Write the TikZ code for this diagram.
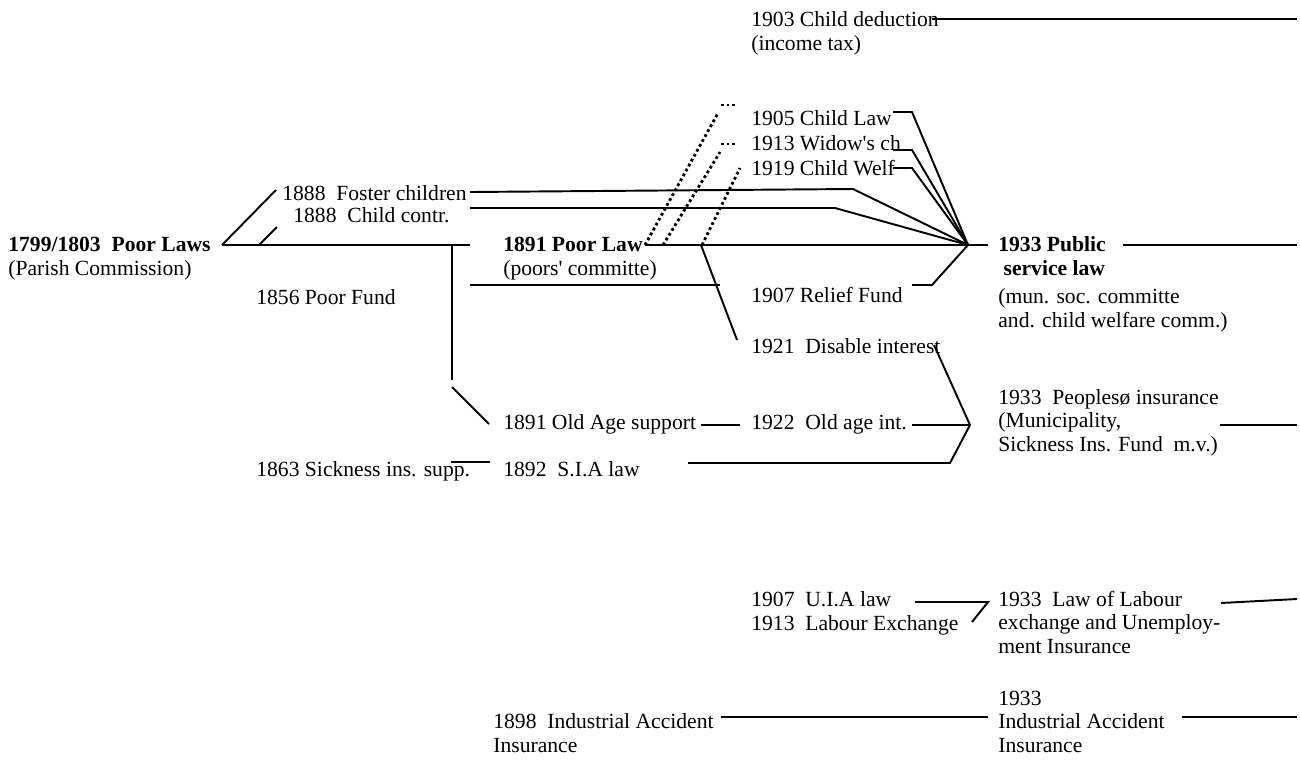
\documentclass[tikz,border=0pt]{standalone}
\usepackage{fontspec}
\setmainfont{Liberation Serif}
\usepackage{tikz}
\usetikzlibrary{calc}
\tikzstyle{lawtext}=[anchor=base west,inner sep=0pt,align=left,font=\fontsize{12.3}{13.1}\selectfont]
\tikzstyle{link}=[line width=1.1pt,color=black]
\tikzstyle{dotlink}=[line width=1.6pt,color=black,dash pattern=on 1.6pt off 1.6pt]

\begin{document}
\begin{tikzpicture}[x={(0.02cm,0)},y={(0,-0.02cm)}]
	\useasboundingbox (0,0) rectangle (1300,761);
	
	% Poor laws 1799/1803 (multi-line nodes sit on their last line)
	\node[lawtext] (poorlaws) at (8,275) {\textbf{1799/1803\ \ Poor Laws}\\(Parish Commission)};
	\node[lawtext] (foster) at (282,200) {1888\ \ Foster children};
	\node[lawtext] (contr) at (293,222) {1888\ \ Child contr.};
	\node[lawtext] (poorfund) at (256,304) {1856 Poor Fund};
	\coordinate (plroot) at (222,245);
	\coordinate (plend) at (470,245);
	\coordinate (fosterin) at (276,190);
	\coordinate (contrfork) at (259,245);
	\coordinate (contrin) at (277,227);
	\coordinate (fundfork) at (452,245);
	\coordinate (fundbot) at (452,380);
	\coordinate (oldtop) at (452,387);
	\coordinate (oldin) at (489,424);
	\draw[link] (plroot) -- (plend);
	\draw[link] (plroot) -- (fosterin);
	\draw[link] (contrfork) -- (contrin);
	\draw[link] (fundfork) -- (fundbot);
	\draw[link] (oldtop) -- (oldin);
	
	% Poor law 1891
	\node[lawtext] (poorlaw) at (503,275) {\textbf{1891 Poor Law}\\(poors\textquotesingle\ committe)};
	\node[lawtext] (deduction) at (751,50) {1903 Child deduction\\(income tax)};
	\node[lawtext] (childlaw) at (751,125) {1905 Child Law};
	\node[lawtext] (widow) at (751,150) {1913 Widow\textquotesingle s ch};
	\node[lawtext] (welfare) at (751,175) {1919 Child Welf};
	\node[lawtext] (relief) at (751,302) {1907 Relief Fund};
	\node[lawtext] (disable) at (751,353) {1921\ \ Disable interest};
	\coordinate (hub) at (968,245);
	\coordinate (fosterout) at (470,192);
	\coordinate (fosterbend) at (853,189);
	\coordinate (controut) at (470,208);
	\coordinate (contrbend) at (835,208);
	\coordinate (fundout) at (470,285);
	\coordinate (fundend) at (720,285);
	\coordinate (plstart) at (645,245);
	\coordinate (plhub) at (988,245);
	\coordinate (dotA) at (663,245);
	\coordinate (dotB) at (702,245);
	\coordinate (dotAtop) at (718,113);
	\coordinate (dotAl) at (721,105);
	\coordinate (dotAr) at (737,105);
	\coordinate (dotBtop) at (720,152);
	\coordinate (dotBl) at (721,144);
	\coordinate (dotBr) at (737,144);
	\coordinate (dotCtop) at (740,168);
	\coordinate (disfork) at (701,245);
	\coordinate (disin) at (737,340);
	\draw[link] (fosterout) -- (fosterbend) -- (hub);
	\draw[link] (controut) -- (contrbend) -- (hub);
	\draw[link] (fundout) -- (fundend);
	\draw[link] (plstart) -- (plhub);
	\draw[link] (disfork) -- (disin);
	\draw[dotlink] (plstart) -- (dotAtop);
	\draw[dotlink] (dotAl) -- (dotAr);
	\draw[dotlink] (dotA) -- (dotBtop);
	\draw[dotlink] (dotBl) -- (dotBr);
	\draw[dotlink] (dotB) -- (dotCtop);
	\coordinate (childout) at (893,112);
	\coordinate (childbend) at (912,112);
	\coordinate (widowout) at (893,150);
	\coordinate (widowbend) at (912,150);
	\coordinate (welfout) at (893,168);
	\coordinate (welfbend) at (912,168);
	\coordinate (reliefout) at (912,285);
	\coordinate (reliefbend) at (932,285);
	\draw[link] (childout) -- (childbend) -- (hub);
	\draw[link] (widowout) -- (widowbend) -- (hub);
	\draw[link] (welfout) -- (welfbend) -- (hub);
	\draw[link] (reliefout) -- (reliefbend) -- (hub);
	\coordinate (dedout) at (932,19);
	\coordinate (dedend) at (1297,19);
	\draw[link] (dedout) -- (dedend);
	
	% Public service law 1933
	\node[lawtext] (public) at (998,327) {\textbf{1933 Public}\\\hspace*{3pt}\textbf{service law}\\[3.4pt](mun. soc. committe\\and. child welfare comm.)};
	\coordinate (pubout) at (1123,245);
	\coordinate (pubend) at (1297,245);
	\draw[link] (pubout) -- (pubend);
	
	% Old age and sickness
	\node[lawtext] (oldage) at (503,429) {1891 Old Age support};
	\node[lawtext] (oldint) at (751,429) {1922\ \ Old age int.};
	\node[lawtext] (sickness) at (256,476) {1863 Sickness ins. supp.};
	\node[lawtext] (sia) at (503,476) {1892\ \ S.I.A law};
	\node[lawtext] (peoples) at (998,451) {1933\ \ Peoples\o{} insurance\\(Municipality,\\Sickness Ins. Fund\ \ m.v.)};
	\coordinate (oldout) at (701,425);
	\coordinate (oldintin) at (740,425);
	\coordinate (oldintout) at (912,425);
	\coordinate (pjoin) at (970,425);
	\coordinate (disout) at (934,345);
	\coordinate (siabend) at (950,463);
	\coordinate (siaout) at (688,463);
	\coordinate (sickout) at (451,462);
	\coordinate (sickend) at (490,462);
	\coordinate (peopout) at (1220,425);
	\coordinate (peopend) at (1297,425);
	\draw[link] (oldout) -- (oldintin);
	\draw[link] (oldintout) -- (pjoin);
	\draw[link] (disout) -- (pjoin) -- (siabend) -- (siaout);
	\draw[link] (sickout) -- (sickend);
	\draw[link] (peopout) -- (peopend);
	
	% Labour exchange
	\node[lawtext] (uia) at (751,630) {1907\ \ U.I.A law\\1913\ \ Labour Exchange};
	\node[lawtext] (labour) at (998,653) {1933\ \ Law of Labour\\exchange and Unemploy-\\ment Insurance};
	\coordinate (uiaout) at (915,602);
	\coordinate (uiabend) at (988,602);
	\coordinate (uiaend) at (972,622);
	\coordinate (labout) at (1221,603);
	\coordinate (labend) at (1297,599);
	\draw[link] (uiaout) -- (uiabend) -- (uiaend);
	\draw[link] (labout) -- (labend);
	
	% Industrial accident
	\node[lawtext] (industrial) at (493,752) {1898\ \ Industrial Accident\\Insurance};
	\node[lawtext] (industrialb) at (998,752) {1933\\Industrial Accident\\Insurance};
	\coordinate (indout) at (721,717);
	\coordinate (indend) at (988,717);
	\coordinate (indbout) at (1182,717);
	\coordinate (indbend) at (1297,717);
	\draw[link] (indout) -- (indend);
	\draw[link] (indbout) -- (indbend);
	
\end{tikzpicture}
\end{document}
